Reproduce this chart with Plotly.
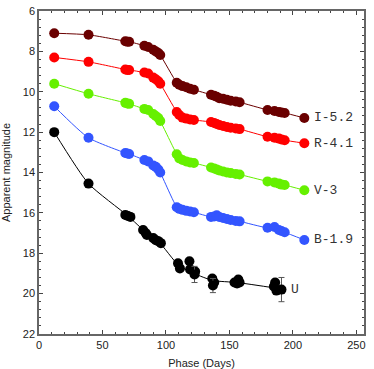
import plotly.graph_objects as go

# phases (days) shared by the I, R, V, B light curves
phase = [12, 39, 68, 69.5, 71, 83, 86, 90, 92, 94, 95.5, 108.5, 110.5, 113, 116, 119, 122,
         135.5, 138, 140, 142, 145, 148, 151, 155, 158, 180, 185.5, 189, 191, 193.5, 209]

mag_I = [7.1, 7.18, 7.5, 7.52, 7.52, 7.72, 7.78, 7.92, 8.0, 8.08, 8.18, 9.55, 9.65, 9.72, 9.78, 9.85, 9.9,
         10.15, 10.2, 10.25, 10.32, 10.35, 10.4, 10.45, 10.48, 10.52, 10.9, 10.95, 11.0, 11.03, 11.05, 11.3]
mag_R = [8.3, 8.52, 8.9, 8.92, 8.92, 9.05, 9.1, 9.3, 9.38, 9.48, 9.6, 11.0, 11.15, 11.28, 11.33, 11.37, 11.4,
         11.5, 11.55, 11.6, 11.65, 11.7, 11.75, 11.78, 11.82, 11.85, 12.23, 12.28, 12.32, 12.36, 12.4, 12.55]
mag_V = [9.6, 10.1, 10.55, 10.58, 10.6, 10.85, 10.9, 11.1, 11.2, 11.3, 11.45, 13.1, 13.3, 13.38, 13.45, 13.5, 13.53,
         13.75, 13.8, 13.85, 13.9, 13.95, 14.0, 14.03, 14.07, 14.1, 14.44, 14.49, 14.55, 14.6, 14.62, 14.88]
mag_B = [10.72, 12.28, 13.03, 13.06, 13.08, 13.38, 13.45, 13.65, 13.72, 13.85, 14.0, 15.72, 15.8, 15.85, 15.9, 15.93, 15.97,
         16.2, 16.18, 16.12, 16.2, 16.25, 16.3, 16.35, 16.4, 16.42, 16.74, 16.7, 16.85, 16.9, 16.96, 17.34]

# U band: individual points, points with error bars, and the drawn curve
phase_U = [12, 68, 70, 72, 82, 84, 85, 90, 92, 94, 96, 109.5, 111, 118.5, 119, 123, 136.5, 138,
           154, 156, 157, 158, 185, 186, 187]
mag_U = [12.0, 16.1, 16.15, 16.2, 16.85, 17.0, 17.1, 17.25, 17.35, 17.4, 17.5, 18.5, 18.75, 18.4, 18.8, 18.9,
         19.25, 19.45, 19.45, 19.5, 19.3, 19.45, 19.65, 19.45, 19.85]
phase_Uerr = [39, 122.5, 137, 191]
mag_Uerr = [14.55, 19.05, 19.6, 19.8]
err_U = [0.15, 0.4, 0.35, 0.6]
phase_Ucurve = [12, 39, 70, 84, 94, 110, 122, 137, 156, 189]
mag_Ucurve = [12.0, 14.55, 16.15, 16.95, 17.4, 18.6, 19.0, 19.35, 19.45, 19.75]

bands = [
    ("I-5.2", mag_I, "#6a0000"),
    ("R-4.1", mag_R, "#ff0000"),
    ("V-3", mag_V, "#66f000"),
    ("B-1.9", mag_B, "#3355ff"),
]

fig = go.Figure()
for name, mags, col in bands:
    fig.add_trace(go.Scatter(x=phase, y=mags, mode="lines+markers", line=dict(color=col, width=1, shape="spline", smoothing=0.6),
                             marker=dict(color=col, size=10), showlegend=False))
    fig.add_annotation(x=phase[-1], y=mags[-1], text=name, showarrow=False, xanchor="left", xshift=8,
                       font=dict(family="Liberation Mono", size=13, color="#333333"))

fig.add_trace(go.Scatter(x=phase_Ucurve, y=mag_Ucurve, mode="lines", line=dict(color="#000000", width=1, shape="spline", smoothing=0.6),
                         showlegend=False))
fig.add_trace(go.Scatter(x=phase_U, y=mag_U, mode="markers", marker=dict(color="#000000", size=10), showlegend=False))
fig.add_trace(go.Scatter(x=phase_Uerr, y=mag_Uerr, mode="markers", marker=dict(color="#000000", size=10),
                         error_y=dict(type="data", array=err_U, color="#555555", thickness=1, width=3), showlegend=False))
fig.add_annotation(x=phase_Uerr[-1], y=mag_Uerr[-1], text="U", showarrow=False, xanchor="left", xshift=8,
                   font=dict(family="Liberation Mono", size=13, color="#333333"))

axis = dict(showgrid=False, zeroline=False, showline=True, mirror="ticks", linecolor="#666666", linewidth=1.5,
            ticks="inside", ticklen=4, tickcolor="#444444", automargin=False,
            tickfont=dict(family="Arial", size=11, color="#222222"))

fig.update_xaxes(**axis, range=[0, 256], dtick=50,
                 title=dict(text="Phase (Days)", font=dict(family="Arial", size=11, color="#222222")),
                 minor=dict(dtick=10, ticks="inside", ticklen=2, tickcolor="#444444"))
fig.update_yaxes(**axis, range=[22, 6], dtick=2,
                 title=dict(text="Apparent magnitude", font=dict(family="Arial", size=11, color="#222222")),
                 minor=dict(dtick=0.4, ticks="inside", ticklen=2, tickcolor="#444444"))

fig.update_layout(width=374, height=369, margin=dict(l=39, r=10, t=11, b=35),
                  plot_bgcolor="white", paper_bgcolor="white")

fig.write_html("out.html", config={"displayModeBar": False},
               post_script="document.body.style.margin='0';")
